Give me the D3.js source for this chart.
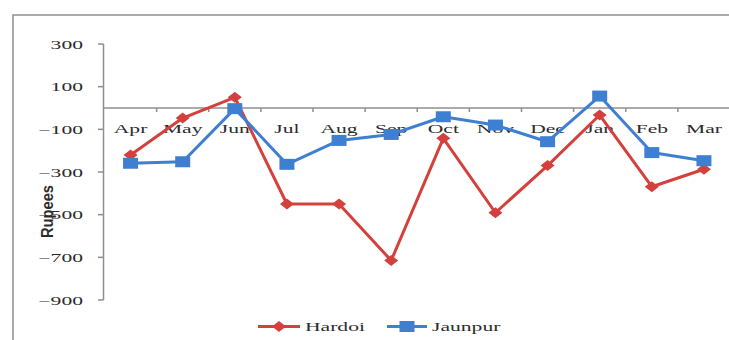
<!DOCTYPE html>
<html>
<head>
<meta charset="utf-8">
<script src="https://cdn.jsdelivr.net/npm/d3@7"></script>
<style>
  html, body { margin: 0; padding: 0; background: #fff; }
  svg { display: block; }
</style>
</head>
<body>
<svg id="chart" width="729" height="340"></svg>
<script>
// Monthly values (Rupees) for two districts
const months = ["Apr", "May", "Jun", "Jul", "Aug", "Sep", "Oct", "Nov", "Dec", "Jan", "Feb", "Mar"];
const hardoi = [-220, -47, 50, -450, -450, -715, -142, -491, -270, -33, -369, -287];
const jaunpur = [-259, -252, -3, -264, -152, -124, -41, -80, -158, 56, -209, -247];
const yTicks = [300, 100, -100, -300, -500, -700, -900];
const seriesNames = ["Hardoi", "Jaunpur"];

const W = 729, H = 340;
const RED = "#d4413c", BLUE = "#3f7fd2", GRID = "#8f8f8f", TEXT = "#2c2c2c";
const SX = 1.8;             // horizontal stretch of the serif text
const serif = "'Liberation Serif', 'Times New Roman', serif";

const svg = d3.select("#chart");

const x = d3.scaleBand().domain(months).range([104.5, 730]).padding(0);
const xc = m => x(m) + x.bandwidth() / 2;
const y = d3.scaleLinear().domain([-900, 300]).range([300, 44]);

// outer frame (top and left edges)
svg.append("path")
  .attr("d", `M13,${H} L13,15 L${W},15`)
  .attr("fill", "none").attr("stroke", GRID).attr("stroke-width", 1.5);

// helper: stretched text
function sText(g, str, tx, ty, anchor, size) {
  const t = g.append("g").attr("transform", `translate(${tx},${ty}) scale(${SX},1)`);
  t.append("text")
    .attr("text-anchor", anchor)
    .attr("font-family", serif)
    .attr("font-size", size)
    .attr("fill", TEXT)
    .text(str);
  return t;
}

// y axis
const yAxisG = svg.append("g");
yAxisG.append("line")
  .attr("x1", 103.5).attr("x2", 103.5)
  .attr("y1", y(300)).attr("y2", y(-900))
  .attr("stroke", GRID).attr("stroke-width", 1.5);
yAxisG.selectAll("line.tick").data(yTicks).join("line")
  .attr("class", "tick")
  .attr("x1", 98).attr("x2", 103.5)
  .attr("y1", d => y(d)).attr("y2", d => y(d))
  .attr("stroke", GRID).attr("stroke-width", 1.5);
yTicks.forEach(v => sText(yAxisG, d3.format("d")(v), 83, y(v) + 4.5, "end", 12));

// category axis along zero
const xAxisG = svg.append("g");
xAxisG.append("line")
  .attr("x1", 103.5).attr("x2", W)
  .attr("y1", y(0)).attr("y2", y(0))
  .attr("stroke", GRID).attr("stroke-width", 1.5);
xAxisG.selectAll("line.tick").data(months.slice(1)).join("line")
  .attr("class", "tick")
  .attr("x1", d => x(d)).attr("x2", d => x(d))
  .attr("y1", y(0)).attr("y2", y(0) + 4)
  .attr("stroke", GRID).attr("stroke-width", 1.5);
months.forEach(m => sText(xAxisG, m, xc(m), y(0) + 25, "middle", 12));

// axis title
svg.append("text")
  .attr("transform", "translate(53,211.5) rotate(-90)")
  .attr("text-anchor", "middle")
  .attr("font-family", "'Liberation Sans', Arial, sans-serif")
  .attr("font-size", 16)
  .attr("font-weight", "bold")
  .attr("textLength", 53)
  .attr("lengthAdjust", "spacingAndGlyphs")
  .attr("fill", TEXT)
  .text("Rupees");

// markers
const diamond = (cx, cy) => `M${cx - 7},${cy} L${cx},${cy - 5.5} L${cx + 7},${cy} L${cx},${cy + 5.5} Z`;
const square = (cx, cy) => `M${cx - 7.5},${cy - 5.5} h15 v11 h-15 Z`;

const line = d3.line().x((d, i) => xc(months[i])).y(d => y(d));

function drawSeries(vals, color, marker) {
  const g = svg.append("g");
  g.append("path").datum(vals)
    .attr("d", line)
    .attr("fill", "none").attr("stroke", color).attr("stroke-width", 3)
    .attr("stroke-linejoin", "round");
  g.selectAll("path.m").data(vals).join("path")
    .attr("class", "m")
    .attr("d", (d, i) => marker(xc(months[i]), y(d)))
    .attr("fill", color);
}
drawSeries(hardoi, RED, diamond);
drawSeries(jaunpur, BLUE, square);

// legend
const lg = svg.append("g");
const ly = 326.5;
[[seriesNames[0], RED, diamond, 258, 300], [seriesNames[1], BLUE, square, 387, 427]].forEach(([name, c, mk, x0, x1]) => {
  lg.append("line").attr("x1", x0).attr("x2", x1).attr("y1", ly).attr("y2", ly)
    .attr("stroke", c).attr("stroke-width", 3);
  lg.append("path").attr("d", mk((x0 + x1) / 2, ly)).attr("fill", c);
  sText(lg, name, x1 + 5, ly + 4.5, "start", 12);
});
</script>
</body>
</html>
